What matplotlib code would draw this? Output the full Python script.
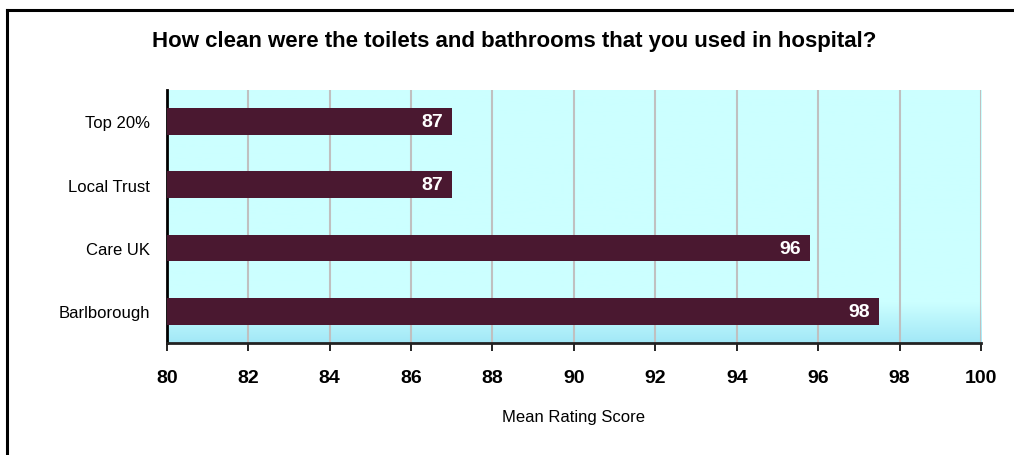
import matplotlib
matplotlib.use("Agg")
import matplotlib.pyplot as plt
import numpy as np
from matplotlib.lines import Line2D
from matplotlib.colors import LinearSegmentedColormap

plt.rcParams['font.family'] = ['Liberation Sans', 'DejaVu Sans']

# Mean rating scores, top row first
categories = ['Top 20%', 'Local Trust', 'Care UK', 'Barlborough']
scores = [87.0, 87.0, 95.8, 97.5]
x_ticks = [80, 82, 84, 86, 88, 90, 92, 94, 96, 98, 100]

title = 'How clean were the toilets and bathrooms that you used in hospital?'
x_label = 'Mean Rating Score'

BAR_COLOR = '#4a1830'
GRID_COLOR = '#c0c0c0'

W, H = 1014, 456
fig = plt.figure(figsize=(W / 100, H / 100), dpi=100)
ax = fig.add_axes([166.7 / W, 1 - 344 / H, (981 - 166.7) / W, (344 - 90.7) / H])

# pale cyan plot area that turns bluer near the bottom edge
frac = np.linspace(0, 1, 256)
shade = np.clip(1 - frac / 0.16, 0, 1)
bg_cmap = LinearSegmentedColormap.from_list('bg', ['#ccffff', '#a2e8f7'])
ax.imshow(shade[:, None], cmap=bg_cmap, vmin=0, vmax=1, extent=(0, 1, 0, 1),
          transform=ax.transAxes, aspect='auto', origin='lower', zorder=0)

y_pos = np.arange(len(categories))
ax.barh(y_pos, [s - 80 for s in scores], left=80, height=0.42,
        color=BAR_COLOR, zorder=3)
for y, s in zip(y_pos, scores):
    ax.annotate(f'{s:.0f}', xy=(s, y), xytext=(-6.5, 0),
                textcoords='offset points', ha='right', va='center',
                color='white', fontsize=14, fontweight='bold', zorder=4)

ax.set_xlim(80, 100)
ax.set_ylim(len(categories) - 0.5, -0.5)
ax.set_xticks(x_ticks)
ax.set_yticks(y_pos)
ax.set_yticklabels(categories, fontsize=12)
ax.tick_params(axis='y', length=0, pad=12)
ax.tick_params(axis='x', length=6, width=1.2, color='black', pad=13,
               labelsize=14)
for lbl in ax.get_xticklabels():
    lbl.set_fontweight('bold')
ax.xaxis.grid(True, color=GRID_COLOR, linewidth=1.5, zorder=1)
ax.set_axisbelow(True)

ax.spines['top'].set_visible(False)
ax.spines['right'].set_visible(False)
ax.spines['left'].set_linewidth(2)
ax.spines['bottom'].set_linewidth(2)
ax.spines['bottom'].set_color('#222222')

ax.set_xlabel(x_label, fontsize=12, labelpad=16)

fig.text(514 / W, 1 - 42 / H, title, ha='center', va='center',
         fontsize=16, fontweight='bold')

# outer chart border, open on the right and bottom
fig.add_artist(Line2D([7 / W, 1], [1 - 11 / H, 1 - 11 / H],
                      transform=fig.transFigure, color='black', linewidth=2.2))
fig.add_artist(Line2D([7 / W, 7 / W], [0, 1 - 11 / H],
                      transform=fig.transFigure, color='black', linewidth=2.2))

fig.savefig('out.png', dpi=100)
